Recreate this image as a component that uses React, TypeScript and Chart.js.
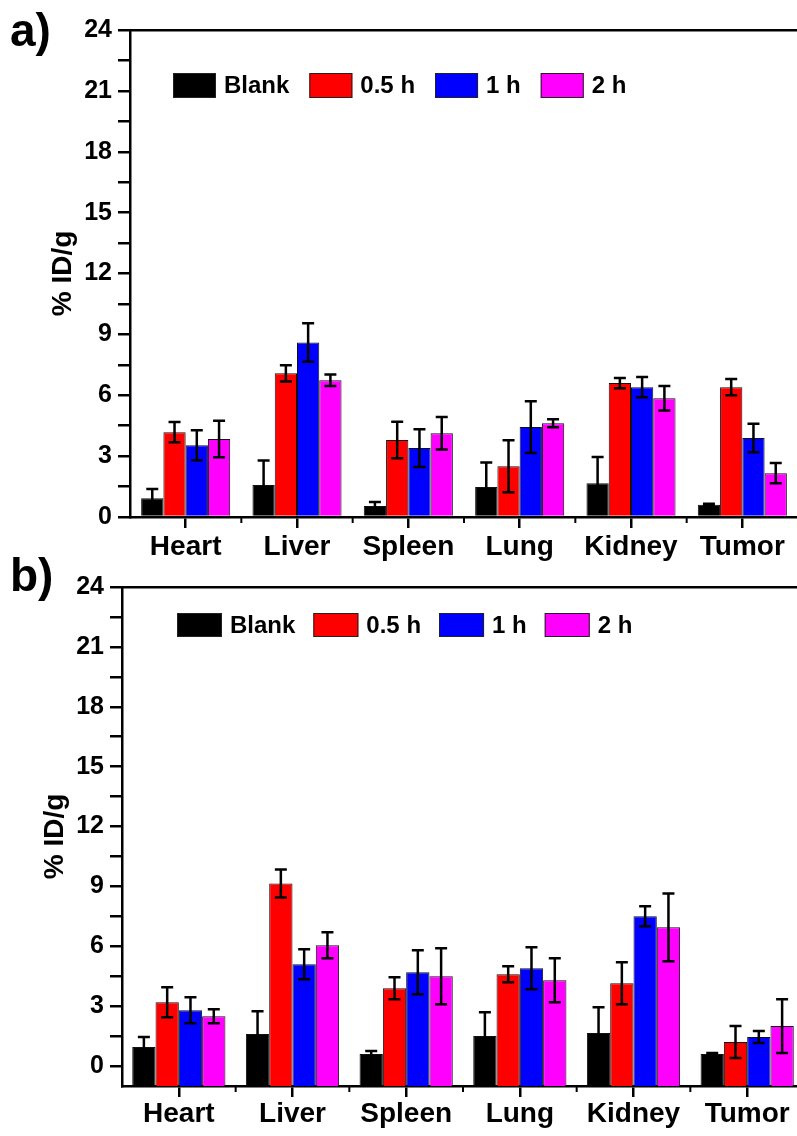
import React, { useEffect, useRef } from 'react';
import { Chart, registerables } from 'chart.js';

Chart.register(...registerables);

// ---------- data ----------
const CATEGORIES = ['Heart', 'Liver', 'Spleen', 'Lung', 'Kidney', 'Tumor'];
const SERIES = ['Blank', '0.5 h', '1 h', '2 h'];
const COLORS = ['#000000', '#ff0000', '#0000ff', '#ff00ff'];
const Y_MAJOR_TICKS = [0, 3, 6, 9, 12, 15, 18, 21, 24];

// panel a
const A_BLANK = [0.93, 1.58, 0.54, 1.48, 1.66, 0.6];
const A_05H = [4.18, 7.08, 3.79, 2.5, 6.6, 6.4];
const A_1H = [3.54, 8.6, 3.4, 4.43, 6.4, 3.89];
const A_2H = [3.84, 6.74, 4.13, 4.62, 5.85, 2.16];
const A_BLANK_ERR = [0.45, 1.2, 0.2, 1.2, 1.3, 0.05];
const A_05H_ERR = [0.5, 0.4, 0.9, 1.28, 0.25, 0.4];
const A_1H_ERR = [0.74, 0.95, 0.93, 1.28, 0.5, 0.7];
const A_2H_ERR = [0.9, 0.28, 0.8, 0.2, 0.6, 0.5];

// panel b
const B_BLANK = [0.95, 1.6, 0.6, 1.5, 1.65, 0.6];
const B_05H = [3.2, 9.15, 3.9, 4.6, 4.15, 1.2];
const B_1H = [2.8, 5.1, 4.7, 4.9, 7.5, 1.45];
const B_2H = [2.5, 6.05, 4.5, 4.3, 6.95, 2.0];
const B_BLANK_ERR = [0.5, 1.15, 0.15, 1.2, 1.3, 0.05];
const B_05H_ERR = [0.75, 0.7, 0.55, 0.4, 1.05, 0.8];
const B_1H_ERR = [0.65, 0.75, 1.1, 1.05, 0.5, 0.3];
const B_2H_ERR = [0.35, 0.65, 1.4, 1.1, 1.7, 1.35];

const FONT = "'Liberation Sans', Arial, Helvetica, sans-serif";

// ---------- plugins ----------
const errorBarPlugin = {
  id: 'errorBars',
  afterDatasetsDraw(chart: any, _args: any, opts: any) {
    const ctx = chart.ctx;
    const yScale = chart.scales.y;
    ctx.save();
    ctx.strokeStyle = '#000';
    ctx.lineWidth = opts.lineWidth || 2.5;
    const cap = opts.cap || 12;
    chart.data.datasets.forEach((ds: any, i: number) => {
      const meta = chart.getDatasetMeta(i);
      meta.data.forEach((el: any, j: number) => {
        const v = ds.data[j];
        const e = ds.errors[j];
        const x = el.x;
        const yt = yScale.getPixelForValue(v + e);
        const yb = yScale.getPixelForValue(v - e);
        ctx.beginPath();
        ctx.moveTo(x, yt);
        ctx.lineTo(x, yb);
        ctx.moveTo(x - cap / 2, yt);
        ctx.lineTo(x + cap / 2, yt);
        ctx.moveTo(x - cap / 2, yb);
        ctx.lineTo(x + cap / 2, yb);
        ctx.stroke();
      });
    });
    ctx.restore();
  },
};

const minorXTickPlugin = {
  id: 'minorXTicks',
  afterDraw(chart: any) {
    const ctx = chart.ctx;
    const xs = chart.scales.x;
    const bottom = chart.chartArea.bottom;
    ctx.save();
    ctx.strokeStyle = '#000';
    ctx.lineWidth = 2;
    for (let i = 1; i < CATEGORIES.length; i++) {
      const x = (xs.getPixelForValue(i - 1) + xs.getPixelForValue(i)) / 2;
      ctx.beginPath();
      ctx.moveTo(x, bottom);
      ctx.lineTo(x, bottom + 6);
      ctx.stroke();
    }
    ctx.restore();
  },
};

const insideLegendPlugin = {
  id: 'insideLegend',
  afterDraw(chart: any, _args: any, opts: any) {
    const ctx = chart.ctx;
    ctx.save();
    ctx.font = `bold ${opts.fontSize}px ${FONT}`;
    ctx.textBaseline = 'middle';
    ctx.textAlign = 'left';
    let x = opts.x;
    const y = opts.y;
    chart.data.datasets.forEach((ds: any) => {
      ctx.fillStyle = ds.backgroundColor;
      ctx.fillRect(x, y, opts.boxW, opts.boxH);
      ctx.strokeStyle = '#222';
      ctx.lineWidth = 1;
      ctx.strokeRect(x + 0.5, y + 0.5, opts.boxW - 1, opts.boxH - 1);
      x += opts.boxW + opts.textGap;
      ctx.fillStyle = '#000';
      ctx.fillText(ds.label, x, y + opts.boxH / 2 + 1);
      x += ctx.measureText(ds.label).width + opts.itemGap;
    });
    ctx.restore();
  },
};

// ---------- chart factory ----------
function buildConfig(p: {
  values: number[][];
  errors: number[][];
  yMin: number;
  base: number;
  padTop: number;
  padRight: number;
  yWidth: number;
  xHeight: number;
  titlePad: number;
  labelPad: number;
  catPct: number;
  legend: any;
}) {
  const minorAndMajor: number[] = [];
  Y_MAJOR_TICKS.forEach((t, i) => {
    minorAndMajor.push(t);
    if (i < Y_MAJOR_TICKS.length - 1) minorAndMajor.push((t + Y_MAJOR_TICKS[i + 1]) / 2);
  });
  return {
    type: 'bar',
    data: {
      labels: CATEGORIES,
      datasets: SERIES.map((s, i) => ({
        label: s,
        data: p.values[i],
        errors: p.errors[i],
        backgroundColor: COLORS[i],
        borderColor: '#111',
        borderWidth: 1,
        barPercentage: 1,
        categoryPercentage: p.catPct,
        base: p.base,
      })),
    },
    options: {
      responsive: false,
      animation: false,
      events: [],
      layout: { padding: { top: p.padTop, right: p.padRight, left: 0, bottom: 0 } },
      plugins: {
        legend: { display: false },
        tooltip: { enabled: false },
        errorBars: { lineWidth: 2.5, cap: 12 },
        insideLegend: p.legend,
      },
      scales: {
        x: {
          type: 'category',
          position: 'bottom',
          offset: true,
          grid: {
            offset: false,
            drawOnChartArea: false,
            drawTicks: true,
            tickLength: 11,
            tickWidth: 2.5,
            tickColor: '#000',
            color: '#000',
            lineWidth: 2.5,
          },
          border: { display: true, color: '#000', width: 2.5 },
          ticks: {
            color: '#000',
            padding: p.labelPad,
            font: { family: FONT, size: 28, weight: 'bold' },
            maxRotation: 0,
            autoSkip: false,
          },
          afterFit: (s: any) => {
            s.height = p.xHeight;
          },
        },
        xTop: {
          type: 'category',
          position: 'top',
          grid: { display: false, drawTicks: false },
          ticks: { display: false },
          border: { display: true, color: '#000', width: 2.5 },
          afterFit: (s: any) => {
            s.height = 0;
          },
        },
        y: {
          type: 'linear',
          position: 'left',
          min: p.yMin,
          max: 24,
          afterBuildTicks: (s: any) => {
            s.ticks = minorAndMajor.map((v) => ({ value: v }));
          },
          grid: {
            drawOnChartArea: false,
            drawTicks: true,
            tickLength: 12,
            tickWidth: 2.5,
            tickColor: '#000',
            color: '#000',
            lineWidth: 2.5,
          },
          border: { display: true, color: '#000', width: 2.5 },
          ticks: {
            color: '#000',
            padding: 6,
            autoSkip: false,
            font: { family: FONT, size: 25, weight: 'bold' },
            callback: (v: any) => (Y_MAJOR_TICKS.includes(Number(v)) ? String(v) : ''),
          },
          title: {
            display: true,
            text: '% ID/g',
            color: '#000',
            font: { family: FONT, size: 28, weight: 'bold' },
            padding: { top: p.titlePad, bottom: 0 },
          },
          afterFit: (s: any) => {
            s.width = p.yWidth;
          },
        },
      },
    },
    plugins: [errorBarPlugin, minorXTickPlugin, insideLegendPlugin],
  };
}

function BarPanel(props: { width: number; height: number; top: number; config: any }) {
  const ref = useRef<HTMLCanvasElement | null>(null);
  useEffect(() => {
    if (!ref.current) return;
    const chart = new Chart(ref.current, props.config);
    return () => chart.destroy();
  }, []);
  return (
    <canvas
      ref={ref}
      width={props.width}
      height={props.height}
      style={{
        position: 'absolute',
        left: 0,
        top: props.top,
        width: props.width,
        height: props.height,
      }}
    />
  );
}

export default function App() {
  const configA = buildConfig({
    values: [A_BLANK, A_05H, A_1H, A_2H],
    errors: [A_BLANK_ERR, A_05H_ERR, A_1H_ERR, A_2H_ERR],
    yMin: 0,
    base: 0,
    padTop: 30,
    padRight: 14,
    yWidth: 130,
    xHeight: 48,
    titlePad: 46,
    labelPad: 2,
    catPct: 0.8,
    legend: { x: 173, y: 73, boxW: 43, boxH: 25, textGap: 8, itemGap: 20, fontSize: 24 },
  });
  const configB = buildConfig({
    values: [B_BLANK, B_05H, B_1H, B_2H],
    errors: [B_BLANK_ERR, B_05H_ERR, B_1H_ERR, B_2H_ERR],
    yMin: -1,
    base: -1,
    padTop: 22,
    padRight: 14,
    yWidth: 122,
    xHeight: 50,
    titlePad: 38,
    labelPad: 0,
    catPct: 0.82,
    legend: { x: 177, y: 48, boxW: 45, boxH: 24, textGap: 8, itemGap: 18, fontSize: 24 },
  });
  const labelStyle: React.CSSProperties = {
    position: 'absolute',
    left: 10,
    fontFamily: FONT,
    fontWeight: 'bold',
    fontSize: 46,
    lineHeight: '46px',
    color: '#000',
    margin: 0,
  };
  return (
    <div
      style={{
        position: 'absolute',
        left: 0,
        top: 0,
        width: 797,
        height: 1136,
        overflow: 'hidden',
        background: '#fff',
      }}
    >
      <BarPanel width={812} height={565} top={0} config={configA} />
      <BarPanel width={818} height={571} top={565} config={configB} />
      <div style={{ ...labelStyle, top: 7 }}>a)</div>
      <div style={{ ...labelStyle, top: 552 }}>b)</div>
    </div>
  );
}
